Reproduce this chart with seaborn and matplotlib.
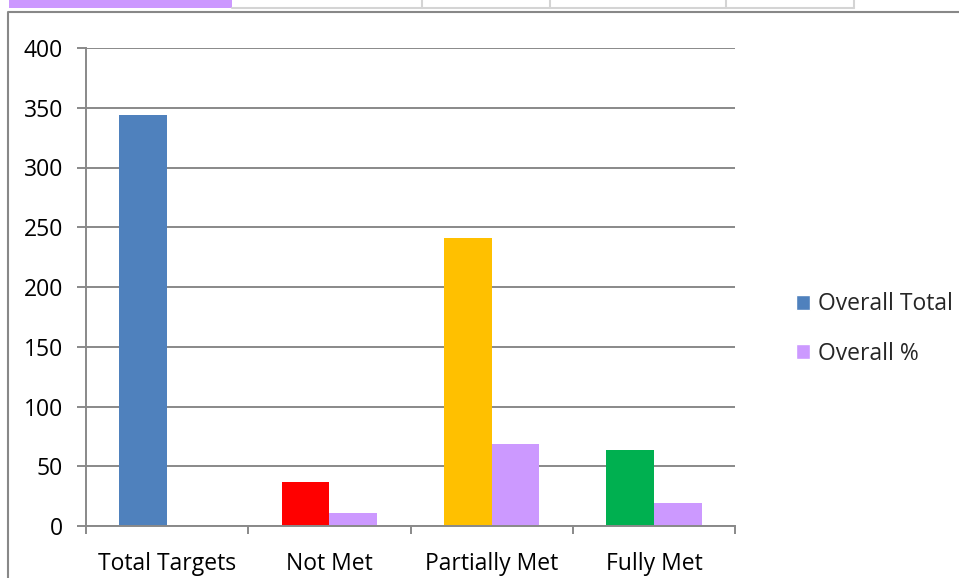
import pandas as pd
import seaborn as sns
import matplotlib.pyplot as plt
from matplotlib.lines import Line2D
from matplotlib.patches import Rectangle, Patch

categories = ['Total Targets', 'Not Met', 'Partially Met', 'Fully Met']
overall_total = [344, 37, 241, 64]
overall_pct = [0, 11, 69, 19]
series_names = ['Overall Total', 'Overall %']

bar_colors = ['#4F81BD', '#FF0000', '#FFC000', '#00B050']
pct_color = '#CC99FF'
grid_gray = '#898989'

df = pd.DataFrame({
    'Category': categories * 2,
    'Value': overall_total + overall_pct,
    'Series': [series_names[0]] * 4 + [series_names[1]] * 4,
})

sns.set_style('white')
plt.rcParams['font.family'] = ['Open Sans', 'DejaVu Sans']

W, H = 959, 578
fig = plt.figure(figsize=(W / 100, H / 100), dpi=100)
ax = fig.add_axes([86 / W, 1 - 526 / H, (735 - 86) / W, (526 - 48) / H])

sns.barplot(data=df, x='Category', y='Value', hue='Series',
            palette=[bar_colors[0], pct_color], width=0.59, saturation=1,
            legend=False, ax=ax)

# first series gets one colour per category
for patch, c in zip(ax.containers[0].patches, bar_colors):
    patch.set_facecolor(c)
for patch in ax.patches:
    patch.set_edgecolor('none')

ax.set_ylim(0, 400)
ax.set_xlim(-0.5, 3.5)
ax.set_yticks(range(0, 401, 50))
ax.set_xlabel('')
ax.set_ylabel('')
ax.set_axisbelow(True)
ax.yaxis.grid(True, color=grid_gray, linewidth=1.4)

for side in ['top', 'right']:
    ax.spines[side].set_visible(False)
for side in ['left', 'bottom']:
    ax.spines[side].set_color(grid_gray)
    ax.spines[side].set_linewidth(1.4)

ax.tick_params(axis='y', left=True, length=6.5, width=1.4, color=grid_gray,
               pad=10, labelsize=16.5, labelcolor='black')
ax.tick_params(axis='x', which='major', length=0, pad=19, labelsize=16.5,
               labelcolor='black')
ax.set_xticks([-0.5, 0.5, 1.5, 2.5, 3.5], minor=True)
ax.tick_params(axis='x', which='minor', bottom=True, length=5.5, width=1.4,
               color=grid_gray)

handles = [Patch(facecolor=bar_colors[0]), Patch(facecolor=pct_color)]
fig.legend(handles, series_names, loc='center left',
           bbox_to_anchor=(787 / W, 1 - 329 / H), frameon=False,
           fontsize=16.5, handlelength=0.6, handleheight=0.6,
           handletextpad=0.35, labelspacing=1.1, borderaxespad=0)

# surrounding sheet frame and cell strip
fig.add_artist(Line2D([8 / W, 8 / W, 1], [0, 1 - 12 / H, 1 - 12 / H],
                      transform=fig.transFigure, color='#888888', lw=1.5))
fig.add_artist(Rectangle((9 / W, 1 - 8 / H), (232 - 9) / W, 8 / H,
                         transform=fig.transFigure, color=pct_color, lw=0))
fig.add_artist(Line2D([232 / W, 854 / W], [1 - 7.5 / H, 1 - 7.5 / H],
                      transform=fig.transFigure, color='#d4d4d4', lw=1.5))
for xp in [422, 550, 726, 854]:
    fig.add_artist(Line2D([xp / W, xp / W], [1 - 7.5 / H, 1],
                          transform=fig.transFigure, color='#d4d4d4', lw=1.5))

fig.savefig('out.png', dpi=100)
